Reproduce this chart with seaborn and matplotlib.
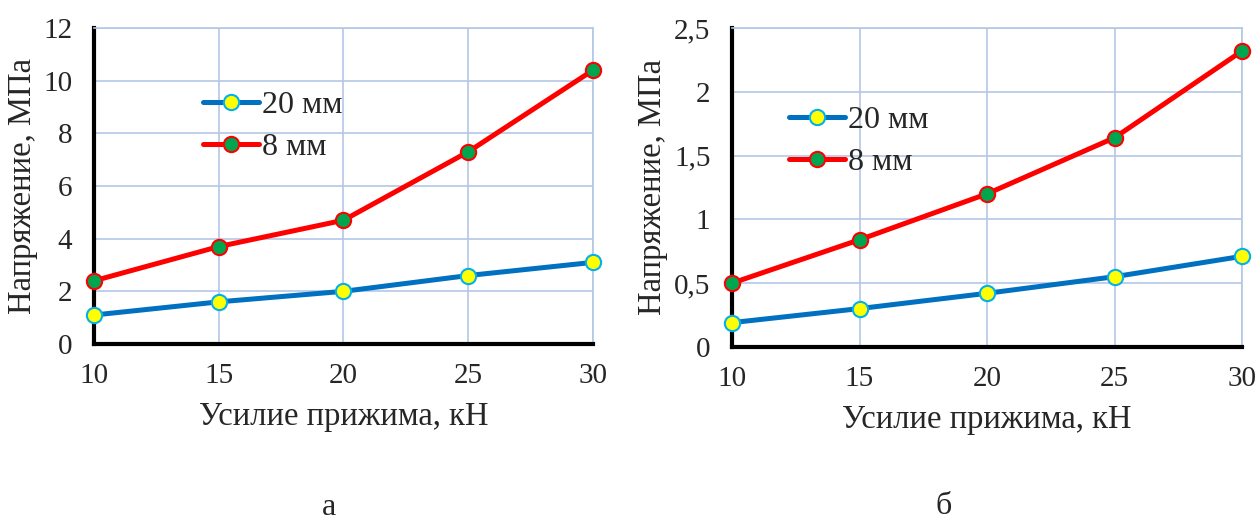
import matplotlib
matplotlib.use("Agg")
import matplotlib.pyplot as plt
import matplotlib.ticker as mticker
import seaborn as sns

# Усилие прижима, кН
force = [10, 15, 20, 25, 30]

# (а) напряжение, МПа
a_20mm = [1.1, 1.6, 2.0, 2.6, 3.1]
a_8mm = [2.4, 3.7, 4.7, 7.3, 10.4]

# (б) напряжение, МПа
b_20mm = [0.19, 0.30, 0.42, 0.55, 0.71]
b_8mm = [0.50, 0.84, 1.20, 1.64, 2.32]

sns.set_style("white")
plt.rcParams['font.family'] = ['Liberation Serif', 'DejaVu Serif']

GRID = '#B4C7E7'


def comma(v, pos):
    s = ('%g' % v)
    return s.replace('.', ',')


def draw_panel(ax, y20, y8, ymax, ystep, leg_anchor, letter, letter_xy):
    sns.lineplot(x=force, y=y20, ax=ax, color='#0070C0', linewidth=3.6,
                 marker='o', markersize=11, markerfacecolor='#FFFF00',
                 markeredgecolor='#00B0F0', markeredgewidth=1.5,
                 label='20 мм', clip_on=False, zorder=3)
    sns.lineplot(x=force, y=y8, ax=ax, color='#FF0000', linewidth=3.6,
                 marker='o', markersize=11, markerfacecolor='#00A550',
                 markeredgecolor='#FF0000', markeredgewidth=1.5,
                 label='8 мм', clip_on=False, zorder=3)

    ax.set_xlim(10, 30)
    ax.set_ylim(0, ymax)
    ax.xaxis.set_major_locator(mticker.MultipleLocator(5))
    ax.yaxis.set_major_locator(mticker.MultipleLocator(ystep))
    ax.yaxis.set_major_formatter(mticker.FuncFormatter(comma))

    ax.grid(True, color=GRID, linewidth=1.2)
    ax.set_axisbelow(True)
    for side in ['top', 'right']:
        ax.spines[side].set_color(GRID)
        ax.spines[side].set_linewidth(1.2)
    for side in ['left', 'bottom']:
        ax.spines[side].set_color('black')
        ax.spines[side].set_linewidth(3)

    ax.tick_params(axis='both', direction='out', length=5.5, width=2.2,
                   color='black', labelsize=21)
    ax.tick_params(axis='x', pad=8)
    ax.tick_params(axis='y', pad=10)
    ax.set_xlabel('Усилие прижима, кН', fontsize=23.5, labelpad=9)
    ax.set_ylabel('Напряжение, МПа', fontsize=23.5, labelpad=4)

    ax.legend(loc='center left', bbox_to_anchor=leg_anchor, frameon=False,
              fontsize=23, handlelength=1.75, handletextpad=0.1,
              labelspacing=0.4, borderpad=0, borderaxespad=0)

    ax.text(letter_xy[0], letter_xy[1], letter, transform=ax.transAxes,
            ha='center', va='center', fontsize=23)


fig = plt.figure(figsize=(12.6, 5.2), dpi=100)
ax1 = fig.add_axes([0.0746, 0.3385, 0.396, 0.6075])
ax2 = fig.add_axes([0.581, 0.333, 0.4047, 0.613])

draw_panel(ax1, a_20mm, a_8mm, 12, 2, (0.218, 0.688), 'а', (0.471, -0.519))
draw_panel(ax2, b_20mm, b_8mm, 2.5, 0.5, (0.112, 0.645), 'б', (0.414, -0.50))

fig.savefig('out.png', dpi=100, facecolor='white')
